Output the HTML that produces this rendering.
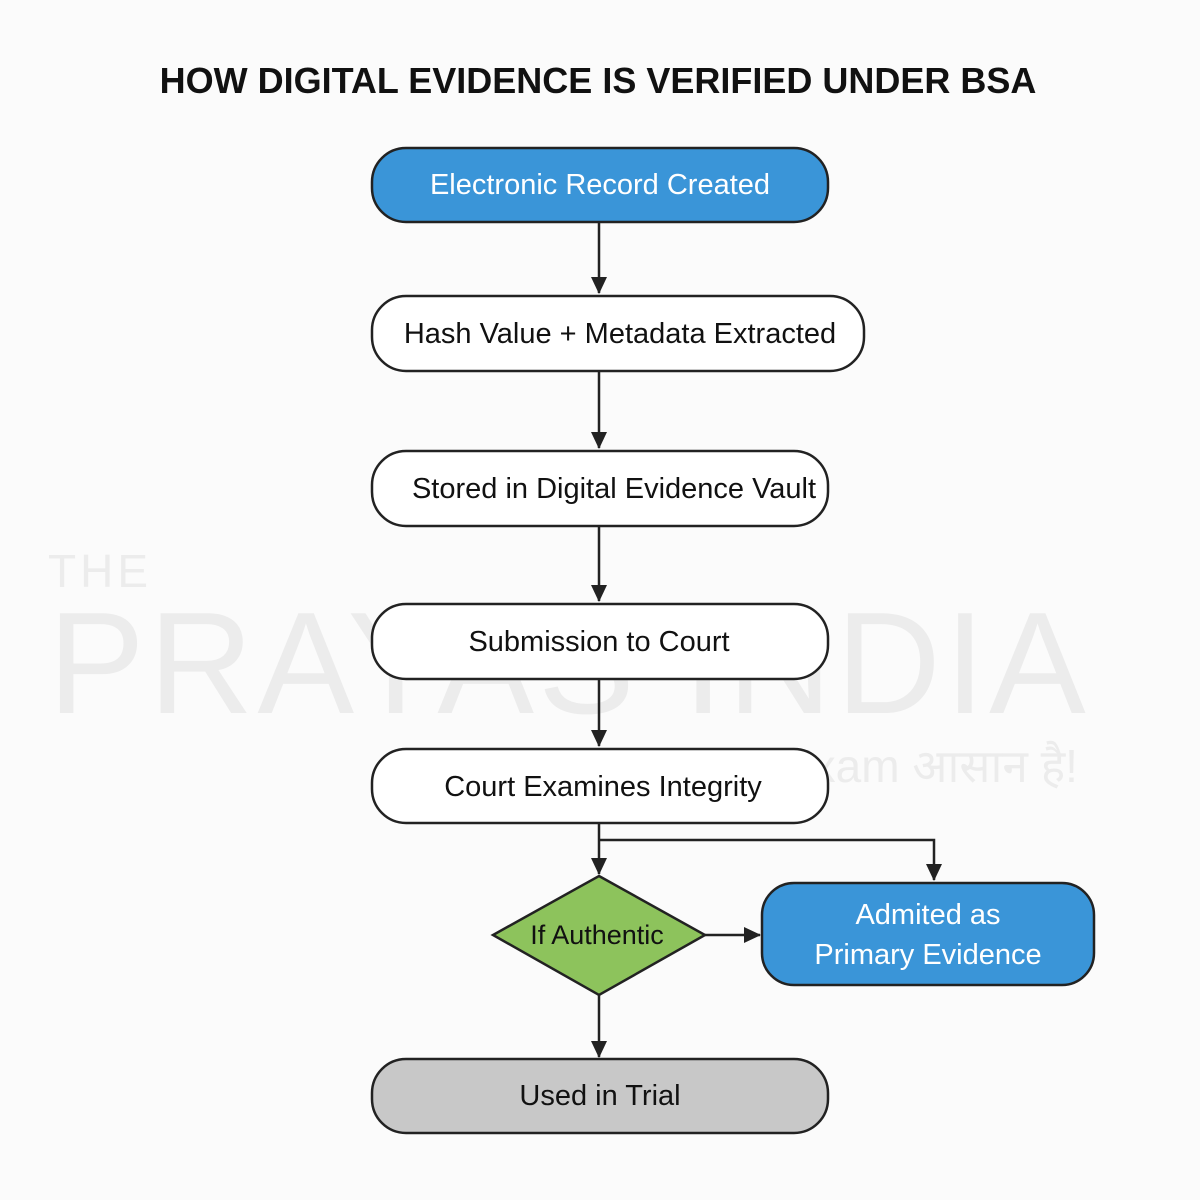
<!DOCTYPE html>
<html><head><meta charset="utf-8"><style>
html,body{margin:0;padding:0;background:#fdfdfd;}
svg{display:block;}
text{font-family:"Liberation Sans","Noto Sans CJK SC",sans-serif;}
</style></head><body>
<svg width="1200" height="1200" viewBox="0 0 1200 1200" xmlns="http://www.w3.org/2000/svg">
<defs>
<marker id="a" markerWidth="18" markerHeight="18" refX="16" refY="9" orient="auto" markerUnits="userSpaceOnUse" viewBox="0 0 18 18">
<path d="M0,1 L17,9 L0,17 z" fill="#222"/></marker>
</defs>
<rect width="1200" height="1200" fill="#fbfbfb"/>
<g fill="#ececec">
<text x="48" y="587" font-size="46" letter-spacing="4">THE</text>
<text x="48" y="713" font-size="145" letter-spacing="4">PRAYAS INDIA</text>
<text x="782" y="782" font-size="46">Exam आसान है!</text>
</g>
<text x="598" y="93" text-anchor="middle" font-size="36" font-weight="bold" fill="#111">HOW DIGITAL EVIDENCE IS VERIFIED UNDER BSA</text>
<g stroke="#222" stroke-width="2.5" fill="none">
<line x1="599" y1="222" x2="599" y2="293" marker-end="url(#a)"/>
<line x1="599" y1="371" x2="599" y2="448" marker-end="url(#a)"/>
<line x1="599" y1="526" x2="599" y2="601" marker-end="url(#a)"/>
<line x1="599" y1="679" x2="599" y2="746" marker-end="url(#a)"/>
<line x1="599" y1="823" x2="599" y2="874" marker-end="url(#a)"/>
<polyline points="599,840 934,840 934,880" marker-end="url(#a)"/>
<line x1="705" y1="935" x2="760" y2="935" marker-end="url(#a)"/>
<line x1="599" y1="995" x2="599" y2="1057" marker-end="url(#a)"/>
</g>
<g stroke="#222" stroke-width="2.5">
<rect x="372" y="148" width="456" height="74" rx="34" fill="#3a95d8"/>
<rect x="372" y="296" width="492" height="75" rx="34" fill="#fff"/>
<rect x="372" y="451" width="456" height="75" rx="34" fill="#fff"/>
<rect x="372" y="604" width="456" height="75" rx="34" fill="#fff"/>
<rect x="372" y="749" width="456" height="74" rx="34" fill="#fff"/>
<polygon points="599,876 705,935 599,995 493,935" fill="#8dc35c"/>
<rect x="762" y="883" width="332" height="102" rx="32" fill="#3a95d8"/>
<rect x="372" y="1059" width="456" height="74" rx="34" fill="#c8c8c8"/>
</g>
<g font-size="29" text-anchor="middle" fill="#111">
<text x="600" y="194" fill="#fff">Electronic Record Created</text>
<text x="620" y="343">Hash Value + Metadata Extracted</text>
<text x="614" y="498">Stored in Digital Evidence Vault</text>
<text x="599" y="651">Submission to Court</text>
<text x="603" y="796">Court Examines Integrity</text>
<text x="597" y="944" font-size="27">If Authentic</text>
<text x="928" y="924" fill="#fff">Admited as</text>
<text x="928" y="964" fill="#fff">Primary Evidence</text>
<text x="600" y="1105">Used in Trial</text>
</g>
</svg>
</body></html>
